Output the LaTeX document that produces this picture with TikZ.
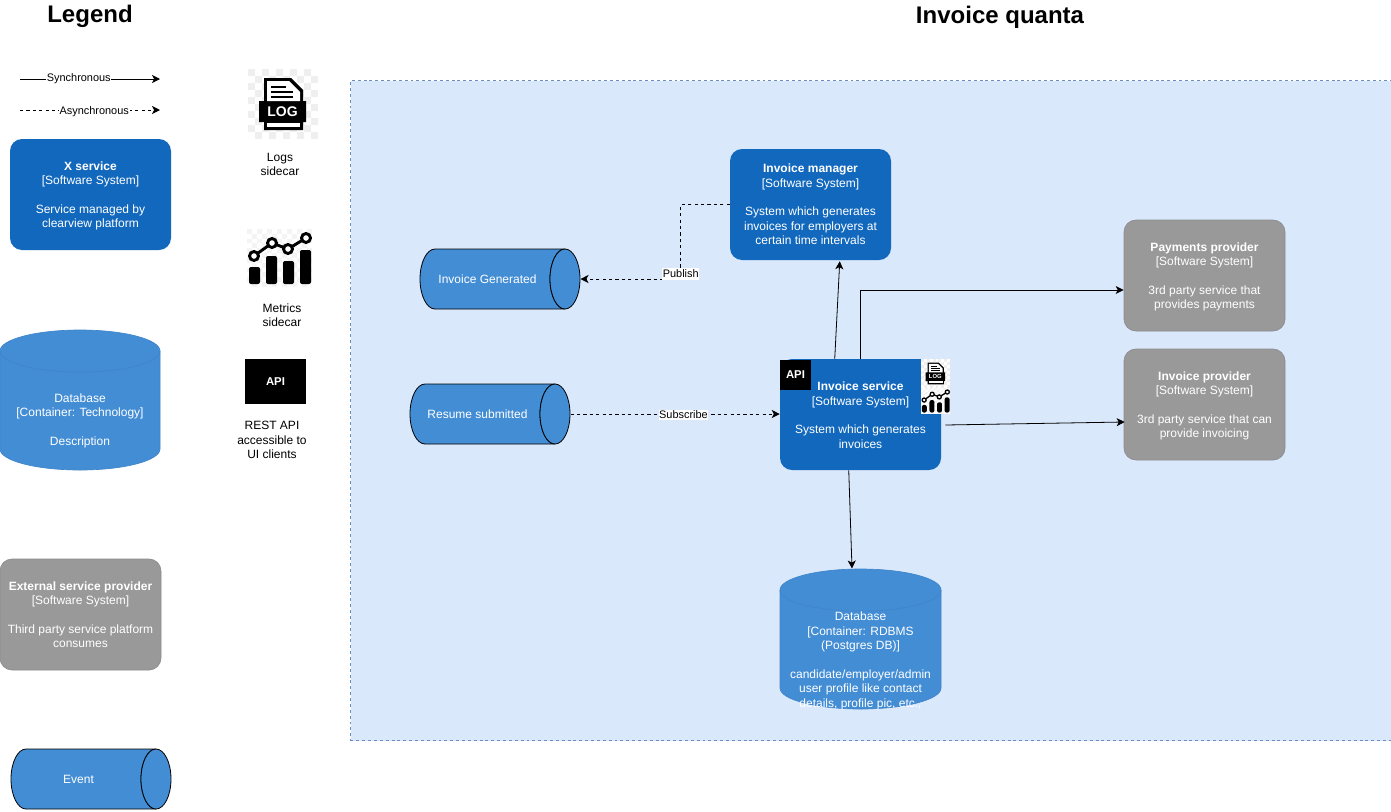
\documentclass[tikz,border=0pt]{standalone}
\usepackage{fontspec}
\setmainfont{Liberation Sans}
\usetikzlibrary{arrows.meta,calc}
\definecolor{svcblue}{HTML}{1168BD}
\definecolor{cylblue}{HTML}{438DD5}
\definecolor{cyledge}{HTML}{3F85CB}
\definecolor{extgrey}{HTML}{999999}
\definecolor{extedge}{HTML}{8B8B8B}
\definecolor{regionfill}{HTML}{DAE8FC}
\definecolor{regionedge}{HTML}{6C8EBF}
\definecolor{chk}{HTML}{EFEFEF}
\newcommand{\dropa}{\rule{0pt}{8.5pt}}
\newcommand{\dropb}{\rule{0pt}{7.5pt}}
\tikzset{
  x=0.75pt,y=-0.75pt,
  body/.style={font=\fontsize{9}{10.8}\selectfont,align=center,inner sep=0pt},
  svcbox/.style={body,text=white,fill=svcblue,rounded corners=9pt,minimum width=120.75pt,minimum height=83.25pt},
  extbox/.style={body,text=white,fill=extgrey,draw=extedge,line width=0.5pt,rounded corners=9pt,minimum width=120.75pt,minimum height=83.25pt},
  celltext/.style={body,text=white},
  capt/.style={body,text=black},
  title/.style={font=\fontsize{18}{21}\selectfont\bfseries,inner sep=0pt},
  apibox/.style={fill=black,text=white,inner sep=0pt,font=\fontsize{8.5}{10}\selectfont\bfseries},
  tip/.style={-{Stealth[length=6pt,width=6pt,inset=1.6pt]}},
  sync/.style={tip,draw=black,line width=0.6pt},
  async/.style={tip,draw=black,line width=0.6pt,dash pattern=on 2.4pt off 2.4pt},
  lbl/.style={fill=white,inner sep=0.5pt,font=\fontsize{8.2}{10}\selectfont,text=black},
}
% horizontal cylinder: name, left x, top y, width, text
\newcommand{\hcyl}[5]{%
  \path[fill=cylblue,draw=black,line width=0.6pt]
    (#2+15,#3) -- (#2+#4-15,#3) arc[start angle=90,end angle=270,x radius=15,y radius=-30]
    -- (#2+15,#3+60) arc[start angle=270,end angle=90,x radius=15,y radius=-30] -- cycle;
  \path[fill=cylblue,draw=black,line width=0.6pt] (#2+#4-15,#3+30) ellipse[x radius=15,y radius=30];
  \node[celltext,minimum width=97.5pt,minimum height=45pt] (#1) at (#2+67.5,#3+30) {#5};
}
% vertical cylinder: left x, top y, width, height
\newcommand{\vcyl}[4]{%
  \path[fill=cylblue] (#1,#2+21) arc[start angle=180,end angle=0,x radius=#3/2,y radius=-21]
    -- (#1+#3,#2+#4-21) arc[start angle=0,end angle=-180,x radius=#3/2,y radius=-21] -- cycle;
  \draw[cyledge,line width=0.5pt] (#1,#2+21) arc[start angle=180,end angle=0,x radius=#3/2,y radius=21]
    arc[start angle=0,end angle=-180,x radius=#3/2,y radius=21];
  \draw[cyledge,line width=0.5pt] (#1,#2+21) -- (#1,#2+#4-21) arc[start angle=180,end angle=0,x radius=#3/2,y radius=21] -- (#1+#3,#2+21);
}
% log icon: node name, x, y, scale, font size
\newcommand{\logicon}[5]{%
  \begin{scope}[shift={(#2,#3)},scale=#4]
    \fill[white] (0,0) rectangle (70,70);
    \foreach \i in {0,...,9}{\foreach \j in {0,...,9}{%
      \pgfmathparse{int(mod(\i+\j,2))}%
      \ifnum\pgfmathresult=0 \fill[chk] (\i*7,\j*7) rectangle ++(7,7);\fi}}
    \fill[black] (16,9) -- (43,9) -- (55,21) -- (55,32) -- (58,32) -- (58,53) -- (55,53) -- (55,61) -- (16,61) -- (16,53) -- (11,53) -- (11,32) -- (16,32) -- cycle;
    \fill[white] (19,12) -- (41,12) -- (52,23) -- (52,32) -- (19,32) -- cycle;
    \fill[white] (19,54) rectangle (52,58);
    \fill[black] (23,17) rectangle (38,18.5);
    \fill[black] (23,22) rectangle (45,23.5);
    \fill[black] (23,27) rectangle (45,28.5);
    \node[inner sep=0pt,text=white,font=\fontsize{#5}{#5}\selectfont\bfseries] (#1) at (34.5,43) {LOG};
  \end{scope}}
% metrics icon: x, y, scale
\newcommand{\metricicon}[3]{%
  \begin{scope}[shift={(#1,#2)},scale=#3]
    \fill[white] (0,0) rectangle (65,58);
    \foreach \i in {0,...,12}{\foreach \j in {0,...,11}{%
      \pgfmathparse{int(mod(\i+\j,2))}%
      \ifnum\pgfmathresult=0 \fill[chk!70!white] (\i*5,\j*4.83) rectangle ++(5,4.83);\fi}}
    \fill[black,rounded corners=1.5pt] (2,38) rectangle (13,55);
    \fill[black,rounded corners=1.5pt] (19,27) rectangle (30,55);
    \fill[black,rounded corners=1.5pt] (36,32) rectangle (47,55);
    \fill[black,rounded corners=1.5pt] (53,21) rectangle (64,55);
    \draw[black,line width=2.2pt*#3] (7,27) -- (25,14) -- (41,20) -- (59,9);
    \foreach \p in {(7,27),(25,14),(41,20),(59,9)}{\draw[black,fill=white,line width=2.2pt*#3] \p circle[radius=4.5];}
  \end{scope}}
\begin{document}
\begin{tikzpicture}
\useasboundingbox (0,0) rectangle (1391,811);
\fill[white] (0,0) rectangle (1391,811);

% titles
\node[title] (legendtitle) at (90,16) {Legend};
\node[title] (quantatitle) at (1000,17) {Invoice quanta};

% region
\node[draw=regionedge,fill=regionfill,line width=0.5pt,dash pattern=on 2.2pt off 2.2pt,inner sep=0pt,minimum width=781.5pt,minimum height=495pt] (region) at (871.5,410.5) {};

% legend arrows
\coordinate (syncfrom) at (20,79);
\coordinate (syncto) at (160,79);
\coordinate (asyncfrom) at (20,110);
\coordinate (asyncto) at (160,110);
\draw[sync] (syncfrom) -- node[lbl,pos=0.42,yshift=0.5pt] (synclbl) {Synchronous} (syncto);
\draw[async] (asyncfrom) -- node[lbl,pos=0.53,yshift=-1pt] (asynclbl) {Asynchronous} (asyncto);

% legend boxes
\node[svcbox] (xsvc) at (90.5,194.5) {\dropa\textbf{X service}\\{}[Software System]\\[10.8pt]Service managed by\\clearview platform};
\vcyl{0}{330}{160}{140}
\node[celltext] (legdb) at (80,420.5) {Database\\{}[Container: Technology]\\[10.8pt]Description};
\node[extbox] (extsvc) at (80.5,614.5) {\textbf{External service provider}\\{}[Software System]\\[10.8pt]Third party service platform\\consumes};
\hcyl{event}{11}{749}{160}{Event}

% legend icons
\logicon{logtxt}{248}{69}{1}{10.5}
\node[capt] (logcap) at (280,164.5) {Logs\\sidecar};
\metricicon{247}{229}{1}
\node[capt] (metcap) at (282,315.5) {Metrics\\sidecar};
\node[apibox,minimum width=45.75pt,minimum height=33.75pt] (apileg) at (275.5,381.5) {API};
\node[capt] (apicap) at (272,440) {REST API\\accessible to\\UI clients};

% main diagram nodes
\node[svcbox] (manager) at (810.5,204.5) {\textbf{Invoice manager}\\{}[Software System]\\[10.8pt]System which generates\\invoices for employers at\\certain time intervals};
\node[extbox] (payments) at (1204.5,275.5) {\dropa\textbf{Payments provider}\\{}[Software System]\\[10.8pt]3rd party service that\\provides payments};
\node[extbox] (invprov) at (1204.5,404.5) {\dropa\textbf{Invoice provider}\\{}[Software System]\\[10.8pt]3rd party service that can\\provide invoicing};
\node[svcbox] (service) at (860.5,414.5) {\dropb\textbf{Invoice service}\\{}[Software System]\\[10.8pt]System which generates\\invoices};
\hcyl{invgen}{420}{249}{160}{Invoice Generated}
\hcyl{resume}{410}{384}{160}{Resume submitted}
\vcyl{780}{569}{161}{140}
\node[celltext] (db) at (860.5,661) {Database\\{}[Container: RDBMS\\(Postgres DB)]\\[10.8pt]candidate/employer/admin\\user profile like contact\\details, profile pic, etc.,};

% service badges
\node[apibox,minimum width=23.25pt,minimum height=22.5pt] (apisvc) at (795.5,375) {API};
\logicon{logsm}{921}{359}{0.415}{4.4}
\metricicon{921}{388}{0.446}

% connector end points
\coordinate (invgenend) at (580.5,279);
\coordinate (resumeend) at (570.5,414);
\coordinate (dbtop) at (852,568.5);

% connectors
\draw[async] (manager.west) -- ++(-49,0) |- node[lbl,pos=0.47,yshift=0.5pt,minimum height=9.5pt] (publbl) {Publish} (invgenend);
\draw[async] (resumeend) -- node[lbl,pos=0.54,yshift=-0.8pt] (sublbl) {Subscribe} (service.west |- resumeend);
\draw[sync] ($(service.north west)+(55,0)$) -- ($(manager.south west)+(110,1)$);
\draw[sync] (service.north) |- (payments.west |- 0,290);
\draw[sync] ($(service.east)+(4,10.5)$) -- ($(invprov.west)+(1,17.5)$);
\draw[sync] ($(service.south west)+(69,0)$) -- (dbtop);
\end{tikzpicture}
\end{document}
